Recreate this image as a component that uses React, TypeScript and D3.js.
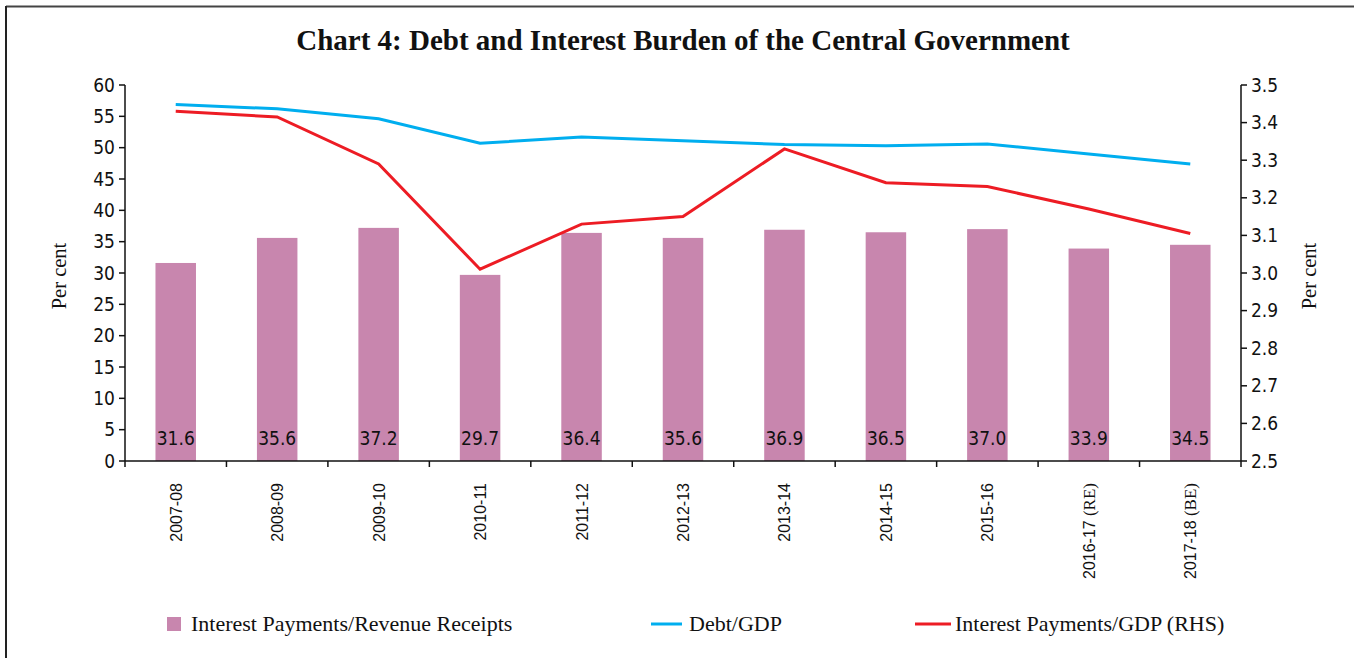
import React from "react";
import * as d3 from "d3";

const categories = ["2007-08","2008-09","2009-10","2010-11","2011-12","2012-13","2013-14","2014-15","2015-16","2016-17 (RE)","2017-18 (BE)"];
const interestRevenue = [31.6,35.6,37.2,29.7,36.4,35.6,36.9,36.5,37.0,33.9,34.5];
const debtGdp = [56.9,56.2,54.6,50.7,51.7,51.1,50.5,50.3,50.6,49.0,47.4];
const interestGdp = [3.43,3.415,3.29,3.01,3.13,3.15,3.33,3.24,3.23,3.17,3.105];
const leftTicks = [0,5,10,15,20,25,30,35,40,45,50,55,60];
const rightTicks = [2.5,2.6,2.7,2.8,2.9,3.0,3.1,3.2,3.3,3.4,3.5];
const title = "Chart 4: Debt and Interest Burden of the Central Government";

const W = 1354, H = 658;
const X0 = 125, X1 = 1241, Y0 = 461, Y1 = 85;
const BAR = "#C886AE", BLUE = "#00AEEF", RED = "#ED1C24";
const SANS = "'DejaVu Sans Condensed', 'DejaVu Sans', sans-serif";
const SERIF = "'Liberation Serif', 'DejaVu Serif', serif";

export default function App() {
  const xb = d3.scaleBand<string>().domain(categories).range([X0, X1]);
  const yL = d3.scaleLinear().domain([0, 60]).range([Y0, Y1]);
  const yR = d3.scaleLinear().domain([2.5, 3.5]).range([Y0, Y1]);
  const cx = (c: string) => (xb(c) as number) + xb.bandwidth() / 2;
  const lineL = d3.line<number>().x((_, i) => cx(categories[i])).y(d => yL(d));
  const lineR = d3.line<number>().x((_, i) => cx(categories[i])).y(d => yR(d));
  const bw = 40.5;

  return (
    <svg width={W} height={H} style={{ position: "absolute", left: 0, top: 0, display: "block", background: "#fff" }}>
      <line x1={6} y1={6.5} x2={W} y2={6.5} stroke="#444" strokeWidth={2} />
      <line x1={6} y1={6} x2={6} y2={H} stroke="#222" strokeWidth={2} />
      <text x={683} y={50} textAnchor="middle" fontFamily={SERIF} fontWeight="bold" fontSize={29} fill="#111">{title}</text>

      {categories.map((c, i) => (
        <g key={c}>
          <rect x={cx(c) - bw / 2} y={yL(interestRevenue[i])} width={bw} height={Y0 - yL(interestRevenue[i])} fill={BAR} />
          <text x={cx(c)} y={445} textAnchor="middle" fontFamily={SANS} fontSize={19} fill="#111">{interestRevenue[i].toFixed(1)}</text>
        </g>
      ))}

      <path d={lineL(debtGdp) || ""} fill="none" stroke={BLUE} strokeWidth={3} />
      <path d={lineR(interestGdp) || ""} fill="none" stroke={RED} strokeWidth={3} />

      {/* left axis */}
      <line x1={X0} y1={Y1} x2={X0} y2={Y0} stroke="#111" strokeWidth={1.5} />
      {leftTicks.map(t => (
        <g key={t}>
          <line x1={X0 - 6} x2={X0} y1={yL(t)} y2={yL(t)} stroke="#111" strokeWidth={1.5} />
          <text x={X0 - 10} y={yL(t) + 6.5} textAnchor="end" fontFamily={SANS} fontSize={19} fill="#111">{t}</text>
        </g>
      ))}
      {/* right axis */}
      <line x1={X1} y1={Y1} x2={X1} y2={Y0} stroke="#111" strokeWidth={1.5} />
      {rightTicks.map(t => (
        <g key={t}>
          <line x1={X1} x2={X1 + 6} y1={yR(t)} y2={yR(t)} stroke="#111" strokeWidth={1.5} />
          <text x={X1 + 10} y={yR(t) + 6.5} textAnchor="start" fontFamily={SANS} fontSize={19} fill="#111">{t.toFixed(1)}</text>
        </g>
      ))}
      {/* x axis */}
      <line x1={X0} y1={Y0} x2={X1} y2={Y0} stroke="#111" strokeWidth={1.5} />
      {categories.map(c => (
        <line key={"t" + c} x1={(xb(c) as number)} x2={(xb(c) as number)} y1={Y0} y2={Y0 + 6} stroke="#111" strokeWidth={1.5} />
      ))}
      <line x1={X1} x2={X1} y1={Y0} y2={Y0 + 6} stroke="#111" strokeWidth={1.5} />
      {categories.map(c => {
        const m = c.match(/^(\S+)(\s\(.*\))?$/);
        const main = m ? m[1] : c;
        const extra = m && m[2] ? m[2] : "";
        return (
          <text key={"l" + c} transform={`translate(${cx(c) + 6},483) rotate(-90)`} textAnchor="end" fontFamily="'Liberation Sans', Arial, sans-serif" fontSize={16} fill="#111">
            {main}
            {extra && <tspan fontFamily={SERIF} fontSize={17}>{extra}</tspan>}
          </text>
        );
      })}

      <text transform="translate(66,276) rotate(-90)" textAnchor="middle" fontFamily={SERIF} fontSize={20.5} fill="#111">Per cent</text>
      <text transform="translate(1316,276) rotate(-90)" textAnchor="middle" fontFamily={SERIF} fontSize={20.5} fill="#111">Per cent</text>

      {/* legend */}
      <rect x={167} y={617} width={14} height={14} fill={BAR} />
      <text x={191} y={631} fontFamily={SERIF} fontSize={22} fill="#111">Interest Payments/Revenue Receipts</text>
      <line x1={651} x2={682} y1={624} y2={624} stroke={BLUE} strokeWidth={3} />
      <text x={689} y={631} fontFamily={SERIF} fontSize={22} fill="#111">Debt/GDP</text>
      <line x1={915} x2={951} y1={624} y2={624} stroke={RED} strokeWidth={3} />
      <text x={955} y={631} fontFamily={SERIF} fontSize={22} fill="#111">Interest Payments/GDP (RHS)</text>
    </svg>
  );
}
